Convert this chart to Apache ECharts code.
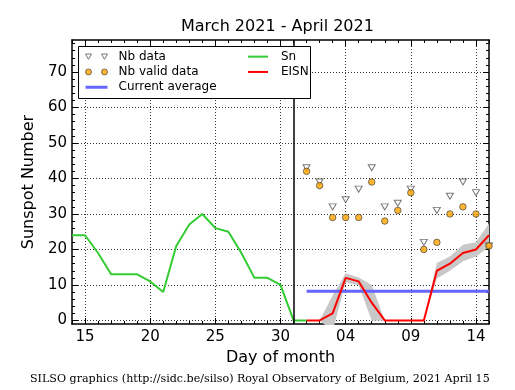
<!DOCTYPE html>
<html><head><meta charset="utf-8">
<script src="https://cdn.jsdelivr.net/npm/echarts@6/dist/echarts.min.js"></script>
<style>html,body{margin:0;padding:0;background:#fff;}#c{width:515px;height:390px;}</style>
</head><body><div id="c"></div>
<script>
// Days: 2021-03-14 .. 2021-04-15
const categories = ['2021-03-14','2021-03-15','2021-03-16','2021-03-17','2021-03-18','2021-03-19','2021-03-20','2021-03-21','2021-03-22','2021-03-23','2021-03-24','2021-03-25','2021-03-26','2021-03-27','2021-03-28','2021-03-29','2021-03-30','2021-03-31','2021-04-01','2021-04-02','2021-04-03','2021-04-04','2021-04-05','2021-04-06','2021-04-07','2021-04-08','2021-04-09','2021-04-10','2021-04-11','2021-04-12','2021-04-13','2021-04-14','2021-04-15'];
const snValues = [24,24,19,13,13,13,11,8,21,27,30,26,25,19,12,12,10,0,0,null,null,null,null,null,null,null,null,null,null,null,null,null,null];
const nbData = [null,null,null,null,null,null,null,null,null,null,null,null,null,null,null,null,null,null,43,39,32,34,37,43,32,33,37,22,31,35,39,36,21];
const nbValid = [null,null,null,null,null,null,null,null,null,null,null,null,null,null,null,null,null,null,42,38,29,29,29,39,28,31,36,20,22,30,32,30,21];
const eisn = [null,null,null,null,null,null,null,null,null,null,null,null,null,null,null,null,null,null,0,0,2,12,11,5,0,0,0,0,14,16,19,20,24];
const eisnErr = [null,null,null,null,null,null,null,null,null,null,null,null,null,null,null,null,null,null,0,0,5,1.3,1.1,5,0,0,0,0,2.2,2,2.3,2,3.3];
const currentAverage = [null,null,null,null,null,null,null,null,null,null,null,null,null,null,null,null,null,null,8.2,8.2,8.2,8.2,8.2,8.2,8.2,8.2,8.2,8.2,8.2,8.2,8.2,8.2,8.2];
const xMajorDays = ['2021-03-15','2021-03-20','2021-03-25','2021-03-30','2021-04-04','2021-04-09','2021-04-14'];
const xTickLabels = ['15','20','25','30','04','09','14'];
const yTickValues = [0,10,20,30,40,50,60,70];
const yMinorTickValues = [0,2,4,6,8,10,12,14,16,18,20,22,24,26,28,30,32,34,36,38,40,42,44,46,48,50,52,54,56,58,60,62,64,66,68,70,72,74,76,78];
const verticalMarkDay = '2021-03-31';

const bandLow = eisn.map((v, i) => v == null ? null : v - eisnErr[i]);
const bandSpan = eisnErr.map(e => e == null ? null : 2 * e);

const FONT = 'DejaVu Sans';
const isMajor = (i) => xMajorDays.indexOf(categories[i]) >= 0;
const dotted = {type: [1, 2], color: '#000', width: 0.8};

function xAx(pos, major) {
  return {
    type: 'category', data: categories, boundaryGap: false, position: pos,
    axisLine: {show: major, onZero: false, lineStyle: {color: '#000', width: 1.5}},
    axisTick: {show: true, inside: true, length: major ? 6 : 3,
      interval: major ? ((i) => isMajor(i)) : 0, lineStyle: {color: '#000', width: 1}},
    axisLabel: {show: major && pos === 'bottom', interval: (i) => isMajor(i),
      formatter: (v) => { const k = xMajorDays.indexOf(v); return k >= 0 ? xTickLabels[k] : ''; },
      color: '#000', fontSize: 15, fontFamily: FONT, margin: 6},
    splitLine: {show: major && pos === 'bottom', interval: (i) => isMajor(i), lineStyle: dotted},
    name: (major && pos === 'bottom') ? 'Day of month' : '',
    nameLocation: 'middle', nameGap: 26,
    nameTextStyle: {fontSize: 16, fontFamily: FONT, color: '#000'}
  };
}
function yAx(pos, major) {
  return {
    type: 'value', min: -1, max: 79, position: pos,
    axisLine: {show: major, onZero: false, lineStyle: {color: '#000', width: 1.5}},
    axisTick: {show: true, inside: true, length: major ? 6 : 3,
      customValues: major ? yTickValues : yMinorTickValues, lineStyle: {color: '#000', width: 1}},
    axisLabel: {show: major && pos === 'left', customValues: yTickValues,
      color: '#000', fontSize: 15, fontFamily: FONT, margin: 5},
    splitLine: {show: major && pos === 'left', lineStyle: dotted},
    name: (major && pos === 'left') ? 'Sunspot Number' : '',
    nameLocation: 'middle', nameGap: 30, nameRotate: 90,
    nameTextStyle: {fontSize: 16, fontFamily: FONT, color: '#000'}
  };
}

const triSymbol = 'path://M0,0 L10,0 L5,8.66 Z';
const chart = echarts.init(document.getElementById('c'), null, {renderer: 'canvas'});
chart.setOption({
  animation: false,
  backgroundColor: '#fff',
  textStyle: {fontFamily: FONT},
  title: [
    {text: 'March 2021 - April 2021', left: 181, top: 19, padding: 0,
      textStyle: {fontSize: 16, fontWeight: 'normal', fontFamily: FONT, color: '#000'}},
    {text: 'SILSO graphics (http://sidc.be/silso) Royal Observatory of Belgium, 2021 April 15',
      left: 30, top: 374, padding: 0,
      textStyle: {fontSize: 11.1, fontWeight: 'normal', fontFamily: 'DejaVu Serif', color: '#000'}}
  ],
  grid: {left: 72, top: 40, right: 26, bottom: 66, containLabel: false},
  graphic: [{type: 'rect', shape: {x: 78.5, y: 46.5, width: 232, height: 52}, z: 50,
    style: {fill: '#fff', stroke: '#000', lineWidth: 1}}],
  legend: [
    {left: 85, top: 49, orient: 'vertical', itemGap: 0, itemWidth: 22, itemHeight: 7, padding: 0, z: 60,
      textStyle: {fontSize: 12, fontFamily: FONT, color: '#000', lineHeight: 15.3, padding: [0, 0, 0, 6]},
      data: [
        {name: 'Nb data', icon: 'path://M0,0 L6,0 L3,5.2 Z M16,0 L22,0 L19,5.2 Z',
          itemStyle: {color: '#fff', borderColor: '#555', borderWidth: 1}},
        {name: 'Nb valid data', icon: 'path://M0,3 A3,3 0 1,0 6,3 A3,3 0 1,0 0,3 Z M16,3 A3,3 0 1,0 22,3 A3,3 0 1,0 16,3 Z',
          itemStyle: {color: '#FFA500', borderColor: '#333', borderWidth: 0.8}},
        {name: 'Current average', icon: 'path://M0,0 L22,0 L22,3 L0,3 Z',
          itemStyle: {color: '#6666ff', borderWidth: 0}}
      ]},
    {left: 248, top: 49, orient: 'vertical', itemGap: 0, itemWidth: 20, itemHeight: 7, padding: 0, z: 60,
      textStyle: {fontSize: 12, fontFamily: FONT, color: '#000', lineHeight: 15.3, padding: [0, 0, 0, 8]},
      data: [
        {name: 'Sn', icon: 'path://M0,0 L20,0 L20,2 L0,2 Z', itemStyle: {color: '#33cc33', borderWidth: 0}},
        {name: 'EISN', icon: 'path://M0,0 L20,0 L20,2 L0,2 Z', itemStyle: {color: '#ff0000', borderWidth: 0}}
      ]}
  ],
  xAxis: [xAx('bottom', true), xAx('bottom', false), xAx('top', true), xAx('top', false)],
  yAxis: [yAx('left', true), yAx('left', false), yAx('right', true), yAx('right', false)],
  series: [
    {name: 'bandLow', type: 'line', data: bandLow, stack: 'band', stackStrategy: 'all',
      symbol: 'none', lineStyle: {opacity: 0}, silent: true, z: 1},
    {name: 'bandSpan', type: 'line', data: bandSpan, stack: 'band', stackStrategy: 'all',
      symbol: 'none', lineStyle: {opacity: 0}, areaStyle: {color: '#c8c8c8', opacity: 1}, silent: true, z: 1},
    {name: 'Nb data', type: 'scatter', data: nbData, symbol: triSymbol, symbolSize: [7, 6],
      itemStyle: {color: '#fff', borderColor: '#555', borderWidth: 1}, z: 3},
    {name: 'Nb valid data', type: 'scatter', data: nbValid, symbol: 'circle', symbolSize: 6.5,
      itemStyle: {color: '#FFA500', borderColor: '#333', borderWidth: 0.8}, z: 4},
    {name: 'Sn', type: 'line', data: snValues, symbol: 'none', color: '#33cc33',
      lineStyle: {color: '#33cc33', width: 2}, z: 3,
      markLine: {silent: true, symbol: 'none', label: {show: false},
        lineStyle: {color: '#000', width: 1.5, type: 'solid'},
        data: [{xAxis: verticalMarkDay}]}},
    {name: 'Current average', type: 'line', data: currentAverage, symbol: 'none', color: '#6666ff',
      lineStyle: {color: '#6666ff', width: 3}, z: 3},
    {name: 'EISN', type: 'line', data: eisn, symbol: 'none', color: '#ff0000',
      lineStyle: {color: '#ff0000', width: 2}, z: 4}
  ]
});
</script></body></html>
